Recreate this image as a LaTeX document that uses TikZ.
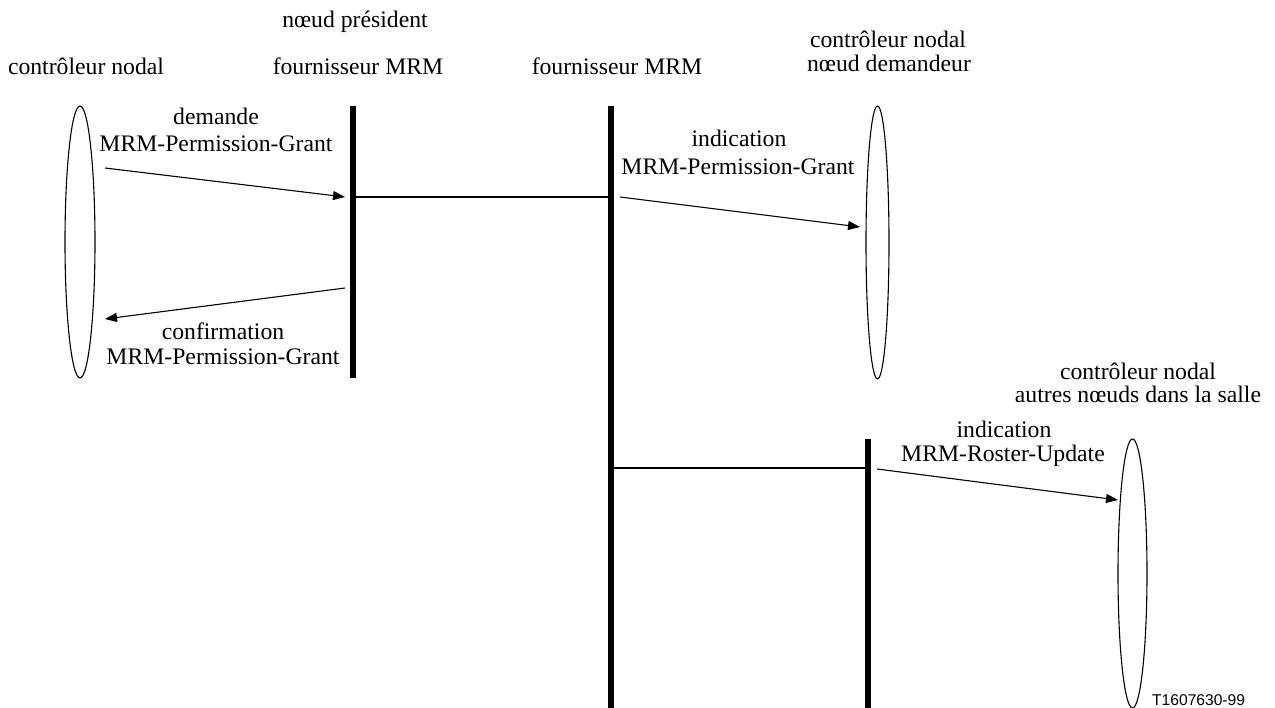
\documentclass[tikz,border=0pt]{standalone}
\usepackage{fontspec}
\setmainfont{Liberation Serif}
\newfontfamily\tsans{Liberation Sans}
\usetikzlibrary{arrows.meta,shapes.geometric}
\begin{document}
\begin{tikzpicture}[x=1pt,y=-1pt,
  lbl/.style={anchor=base, inner sep=0pt, font=\fontsize{23.7}{24}\selectfont},
  bar/.style={rectangle, fill=black, draw=none, minimum width=6pt, inner sep=0pt},
  lifeline/.style={draw, ellipse, inner sep=0pt, line width=1.1pt},
  msg/.style={line width=1.1pt, -{Triangle[length=12pt,width=9pt]}},
  link/.style={line width=1.3pt}]
\useasboundingbox (0,0) rectangle (1275,708);

% lifelines (ellipses) and provider bars
\node[lifeline, minimum width=30pt, minimum height=272pt] (e1) at (80,242) {};
\node[lifeline, minimum width=23pt, minimum height=273pt] (e2) at (877.5,242.5) {};
\node[lifeline, minimum width=29pt, minimum height=269pt] (e3) at (1132.5,573.5) {};
\node[bar, minimum height=272pt] (b1) at (353,242) {};
\node[bar, minimum height=602pt] (b2) at (611,407) {};
\node[bar, minimum height=269pt] (b3) at (868,573.5) {};

% links between providers
\draw[link] (b1.east |- 0,197) -- (b2.west |- 0,197);
\draw[link] (b2.east |- 0,468) -- (b3.west |- 0,468);

% message end points
\coordinate (a1s) at (105,168);
\coordinate (a1e) at (345,197);
\coordinate (a2s) at (345,288);
\coordinate (a2e) at (105,319);
\coordinate (a3s) at (620,197);
\coordinate (a3e) at (860,227);
\coordinate (a4s) at (877,469);
\coordinate (a4e) at (1118,500);

\draw[msg] (a1s) -- (a1e);
\draw[msg] (a2s) -- (a2e);
\draw[msg] (a3s) -- (a3e);
\draw[msg] (a4s) -- (a4e);

% headings
\node[lbl] (h1) at (86,75) {contrôleur nodal};
\node[lbl] (h2a) at (355,28) {nœud président};
\node[lbl] (h2b) at (358,75) {fournisseur MRM};
\node[lbl] (h3) at (617,75) {fournisseur MRM};
\node[lbl] (h4a) at (888,48) {contrôleur nodal};
\node[lbl] (h4b) at (889,72) {nœud demandeur};
\node[lbl] (h5a) at (1138,380) {contrôleur nodal};
\node[lbl] (h5b) at (1138,403) {autres nœuds dans la salle};

% message labels
\node[lbl] (m1a) at (216,125) {demande};
\node[lbl] (m1b) at (216,152) {MRM-Permission-Grant};
\node[lbl] (m2a) at (223,340) {confirmation};
\node[lbl] (m2b) at (223,365) {MRM-Permission-Grant};
\node[lbl] (m3a) at (739,147) {indication};
\node[lbl] (m3b) at (738,175) {MRM-Permission-Grant};
\node[lbl] (m4a) at (1004,438) {indication};
\node[lbl] (m4b) at (1003,462) {MRM-Roster-Update};

\node[anchor=base west, inner sep=0pt, font=\tsans\fontsize{15.6}{16}\selectfont] (ref) at (1152,705) {T1607630-99};
\end{tikzpicture}
\end{document}
